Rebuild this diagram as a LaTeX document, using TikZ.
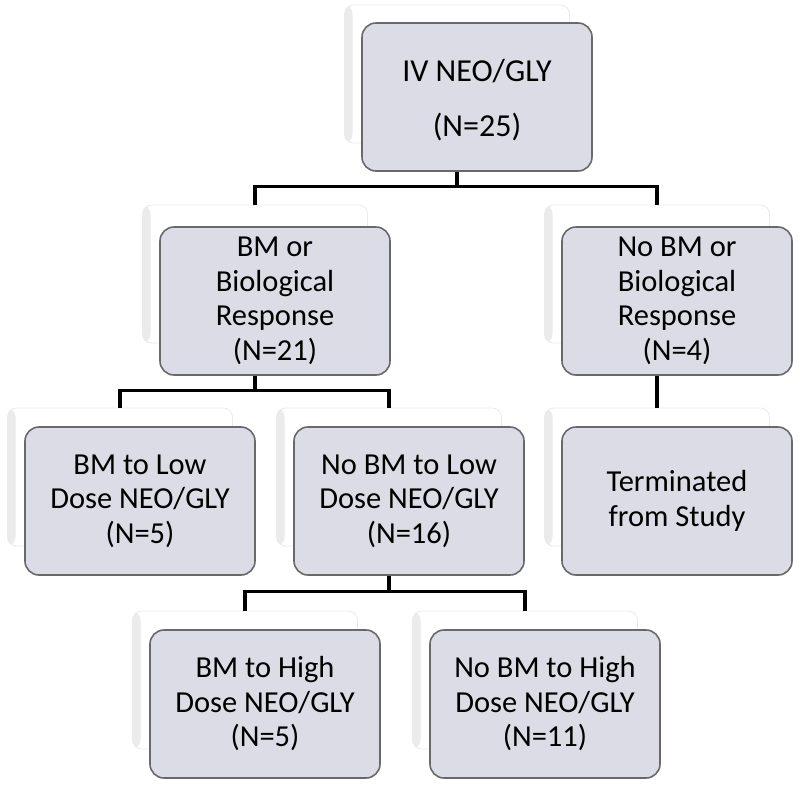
\documentclass[tikz,border=0pt]{standalone}
\usepackage{fontspec}
\setmainfont{Carlito}
\usetikzlibrary{calc}
\definecolor{boxfill}{RGB}{219,220,229}
\definecolor{boxline}{RGB}{105,105,108}
\definecolor{backline}{RGB}{234,234,236}
\tikzset{
  backbox/.style={rounded corners=9pt, draw=backline, line width=0.8pt, fill=white,
    minimum width=225pt, minimum height=138pt, inner sep=0pt,
    path picture={\shade[left color=gray!16, right color=white]
      (path picture bounding box.south west) rectangle ([xshift=8pt]path picture bounding box.north west);}},
  mainbox/.style={rounded corners=14pt, draw=boxline, line width=1.6pt, fill=boxfill,
    minimum width=230pt, minimum height=148pt, inner sep=2pt, align=center,
    font=\fontsize{30.5}{34.5}\selectfont, text=black},
  conn/.style={line width=3.2pt, black}
}
\begin{document}
\begin{tikzpicture}[x=1pt,y=-1pt]
\useasboundingbox (0,0) rectangle (800,785);
% back boxes
\node[backbox] (bTop) at (457,74) {};
\node[backbox] (bL) at (255,274) {};
\node[backbox] (bR) at (657,274) {};
\node[backbox] (bLL) at (120,477) {};
\node[backbox] (bLM) at (389,477) {};
\node[backbox] (bT) at (657,477) {};
\node[backbox] (bHL) at (245,680) {};
\node[backbox] (bHR) at (525,680) {};
% main boxes
\node[mainbox] (mTop) at (477,97) {};
\node[align=center, font=\fontsize{32}{34.5}\selectfont] (tTop) at ([yshift=-3pt]mTop.center) {IV NEO/GLY\\[20pt](N=25)};
\node[mainbox] (mL) at (275,301) {BM or\\Biological\\Response\\(N=21)};
\node[mainbox] (mR) at (677,301) {No BM or\\Biological\\Response\\(N=4)};
\node[mainbox] (mLL) at (140,501) {BM to Low\\Dose NEO/GLY\\(N=5)};
\node[mainbox] (mLM) at (409,501) {No BM to Low\\Dose NEO/GLY\\(N=16)};
\node[mainbox] (mT) at (677,501) {Terminated\\from Study};
\node[mainbox] (mHL) at (265,704) {BM to High\\Dose NEO/GLY\\(N=5)};
\node[mainbox] (mHR) at (545,704) {No BM to High\\Dose NEO/GLY\\(N=11)};
% connectors
\draw[conn] (bTop |- mTop.south) -- ++(0,15) -| (bL.north);
\draw[conn] (bTop |- mTop.south) -- ++(0,15) -| (bR.north);
\draw[conn] (bL |- mL.south) -- ++(0,15) -| (bLL.north);
\draw[conn] (bL |- mL.south) -- ++(0,15) -| (bLM.north);
\draw[conn] (bR |- mR.south) -- (bT.north);
\draw[conn] (bLM |- mLM.south) -- ++(0,16) -| (bHL.north);
\draw[conn] (bLM |- mLM.south) -- ++(0,16) -| (bHR.north);
\end{tikzpicture}
\end{document}
